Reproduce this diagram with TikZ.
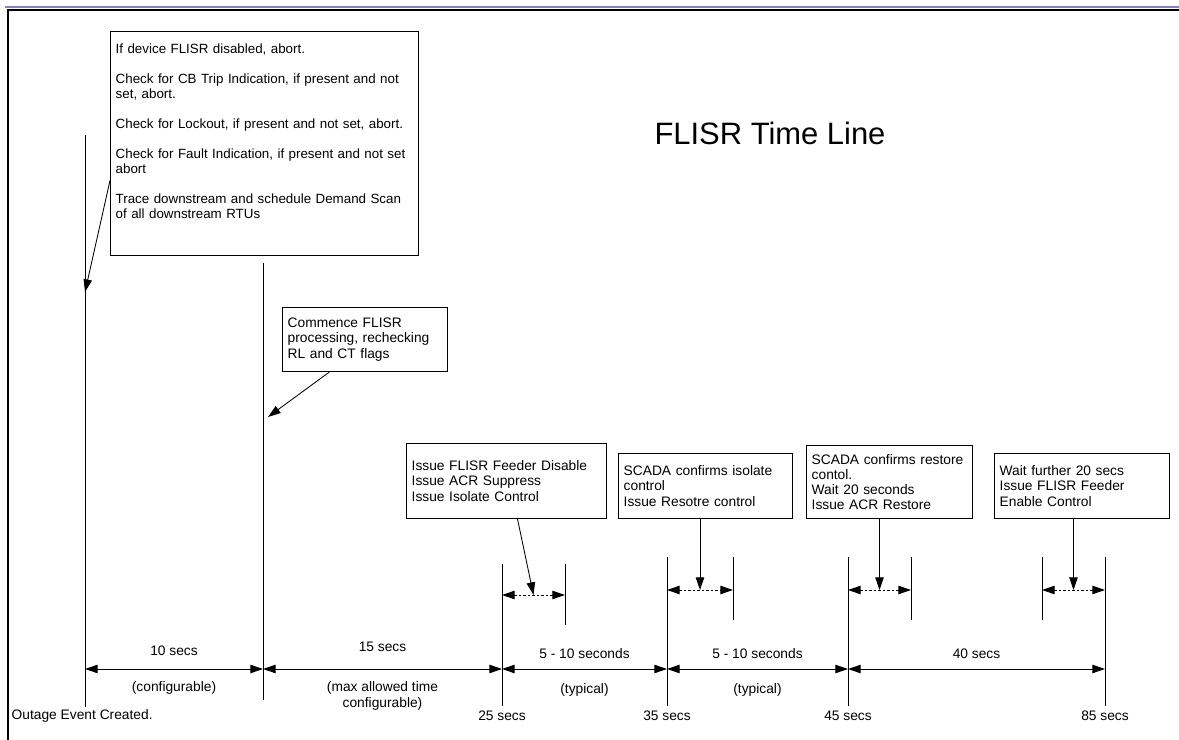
\documentclass[tikz,border=0pt]{standalone}
\usepackage{fontspec}
\setmainfont{Liberation Sans}
\usepackage{xcolor}
\usetikzlibrary{arrows.meta}
\usetikzlibrary{positioning}

\definecolor{slideblue}{RGB}{128,128,196}

\begin{document}
\begin{tikzpicture}[x=0.025cm, y=-0.025cm,
    every node/.style={font=\fontsize{9.8}{10.8}\selectfont, inner sep=1pt},
    note/.style={draw, line width=0.7pt, align=left, anchor=north west, inner xsep=0.13cm, inner ysep=0pt},
    tick/.style={line width=0.7pt},
    span/.style={line width=0.7pt, {Triangle[length=9pt,width=6pt]}-{Triangle[length=9pt,width=6pt]}},
    gap/.style={span, dash pattern=on 1.6pt off 1.6pt},
    pointer/.style={line width=0.6pt, -{Triangle[length=9pt,width=6pt]}}]
  \useasboundingbox (0,0) rectangle (1179,740);

  \draw[slideblue, line width=1.5pt] (5,7) -- (1179,7);
  \draw[line width=1.6pt] (1179,10) -- (8,10) -- (8,740);

  \node[font=\fontsize{22}{26}\selectfont] (title) at (770,133) {FLISR Time Line};

  \node[note, font=\fontsize{9.5}{10.8}\selectfont, text width=7.44cm, inner ysep=0.3cm,
        text height=0.25cm, text depth=4.75cm] (checks) at (110,31)
    {If device FLISR disabled, abort.\\[10.5pt]
     Check for CB Trip Indication, if present and not\\
     set, abort.\\[10.5pt]
     Check for Lockout, if present and not set, abort.\\[10.5pt]
     Check for Fault Indication, if present and not set\\
     abort\\[10.5pt]
     Trace downstream and schedule Demand Scan\\
     of all downstream RTUs};
  \node[note, text width=3.865cm, minimum height=1.6cm] (commence) at (282,307)
    {Commence FLISR\\processing, rechecking\\RL and CT flags};
  \node[note, text width=4.74cm, minimum height=1.875cm] (isolate) at (406,443)
    {Issue FLISR Feeder Disable\\Issue ACR Suppress\\Issue Isolate Control};
  \node[note, text width=4.09cm, minimum height=1.625cm] (isoconfirm) at (618,453)
    {SCADA confirms isolate\\control\\Issue Resotre control};
  \node[note, text width=3.89cm, minimum height=1.825cm] (restconfirm) at (806,445)
    {SCADA confirms restore\\contol.\\Wait 20 seconds\\Issue ACR Restore};
  \node[note, text width=4.115cm, minimum height=1.625cm] (enable) at (994,453)
    {Wait further 20 secs\\Issue FLISR Feeder\\Enable Control};

  \coordinate (s0) at (85,669);
  \coordinate (s10) at (263,669);
  \coordinate (s25) at (502,669);
  \coordinate (s35) at (667,669);
  \coordinate (s45) at (848,669);
  \coordinate (s85) at (1105,669);
  \coordinate (hit0) at (85,292);
  \coordinate (hit10) at (268,417);

  \draw[tick] (85,135) -- (85,707);
  \draw[tick] (263,263) -- (263,700);
  \draw[tick] (502,564) -- (502,706);
  \draw[tick] (565,564) -- (565,625);
  \draw[tick] (667,557) -- (667,706);
  \draw[tick] (733,557) -- (733,620);
  \draw[tick] (848,557) -- (848,706);
  \draw[tick] (911,557) -- (911,620);
  \draw[tick] (1042,557) -- (1042,620);
  \draw[tick] (1105,557) -- (1105,706);

  \draw[span] (s0) -- node[yshift=0.45cm] (len10) {10 secs}
    node[yshift=-0.475cm] (cfg10) {(configurable)} (s10);
  \draw[span] (s10) -- node[yshift=0.55cm] (len15) {15 secs}
    node[yshift=-0.675cm, align=center] (cfg15) {(max allowed time\\configurable)} (s25);
  \draw[span] (s25) -- node[yshift=0.375cm] (len35) {5 - 10 seconds}
    node[yshift=-0.525cm] (typ35) {(typical)} (s35);
  \draw[span] (s35) -- node[yshift=0.375cm] (len45) {5 - 10 seconds}
    node[yshift=-0.525cm] (typ45) {(typical)} (s45);
  \draw[span] (s45) -- node[yshift=0.375cm] (len85) {40 secs} (s85);

  \draw[gap] (502,595) -- coordinate (hit25) (565,595);
  \draw[gap] (667,590) -- coordinate (hit35) (733,590);
  \draw[gap] (848,590) -- coordinate (hit45) (911,590);
  \draw[gap] (1042,590) -- coordinate (hit85) (1105,590);

  \draw[pointer] ([yshift=-0.925cm]checks.west) -- (hit0);
  \draw[pointer] ([xshift=-0.89cm]commence.south) -- (hit10);
  \draw[pointer] ([xshift=0.275cm]isolate.south) -- (hit25);
  \draw[pointer] (hit35 |- isoconfirm.south) -- (hit35);
  \draw[pointer] (hit45 |- restconfirm.south) -- (hit45);
  \draw[pointer] (hit85 |- enable.south) -- (hit85);

  \node[anchor=west] (outage) at (10,716) {Outage Event Created.};
  \node (at25) at (502,716) {25 secs};
  \node (at35) at (667,716) {35 secs};
  \node (at45) at (848,716) {45 secs};
  \node (at85) at (1105,716) {85 secs};
\end{tikzpicture}
\end{document}
